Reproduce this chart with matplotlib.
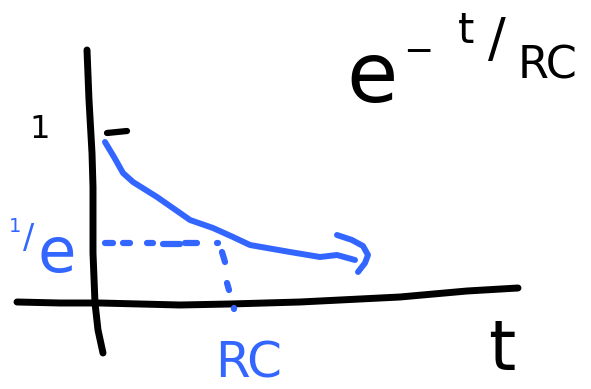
import matplotlib
matplotlib.use("Agg")
import matplotlib.pyplot as plt

# Hand-sketched RC decay: canvas units are pixels, y grows downward.
BLUE = "#3366ff"
BLACK = "#000000"

# Axes strokes
vaxis_x = [87, 89, 92, 93, 93, 95, 98, 103]
vaxis_y = [50, 100, 153, 187, 253, 303, 330, 353]
haxis_x = [17, 60, 100, 180, 230, 300, 400, 467, 518]
haxis_y = [302, 303, 303, 305, 304, 302, 297, 291, 288]

# Tick mark at value 1
tick_x = [107, 127]
tick_y = [133, 131]

# Decay curve and its arrow head
curve_x = [105, 114, 123, 133, 157, 180, 190, 213, 233, 250, 267, 290, 320, 337, 355]
curve_y = [142, 157, 173, 182, 197, 213, 220, 228, 237, 245, 248, 252, 257, 255, 260]
head_x = [337, 352, 363, 368, 365, 358]
head_y = [235, 240, 246, 255, 263, 272]

# Dashed guide from 1/e over to t = RC and down to the t axis
guide_dashes = [
    ((105, 243), (113, 243)),
    ((123, 243), (130, 243)),
    ((147, 243), (153, 243)),
    ((163, 244), (180, 244)),
    ((185, 243), (197, 243)),
    ((217, 243), (218, 243)),
    ((222, 252), (225, 262)),
    ((227, 283), (229, 290)),
    ((234, 308), (234, 309)),
]

fig = plt.figure(figsize=(5.91, 3.89), dpi=100)
ax = fig.add_axes([0, 0, 1, 1])
ax.set_xlim(0, 591)
ax.set_ylim(389, 0)
ax.axis("off")

stroke = dict(solid_capstyle="round", solid_joinstyle="round")
ax.plot(vaxis_x, vaxis_y, color=BLACK, lw=5.0, **stroke)
ax.plot(haxis_x, haxis_y, color=BLACK, lw=5.0, **stroke)
ax.plot(tick_x, tick_y, color=BLACK, lw=4.5, **stroke)
ax.plot(curve_x, curve_y, color=BLUE, lw=4.3, **stroke)
ax.plot(head_x, head_y, color=BLUE, lw=4.3, **stroke)
for (x0, y0), (x1, y1) in guide_dashes:
    ax.plot([x0, x1], [y0, y1], color=BLUE, lw=4.5, **stroke)

font = "DejaVu Sans"
# Value labels
ax.text(40, 138, "1", color=BLACK, fontsize=23, ha="center", va="baseline", family=font)
ax.text(15, 232, "1", color=BLUE, fontsize=14, ha="center", va="baseline", family=font)
ax.text(29, 248, "/", color=BLUE, fontsize=24, ha="center", va="baseline", family=font)
ax.text(57, 272, "e", color=BLUE, fontsize=45, ha="center", va="baseline", family=font)
ax.text(249, 377, "RC", color=BLUE, fontsize=36, ha="center", va="baseline", family=font)
ax.text(502, 370, "t", color=BLACK, fontsize=50, ha="center", va="baseline", family=font)

# Formula e^(-t/RC)
ax.text(372, 102, "e", color=BLACK, fontsize=60, ha="center", va="baseline", family=font)
ax.text(418, 62, "−", color=BLACK, fontsize=26, ha="center", va="baseline", family=font)
ax.text(466, 43, "t", color=BLACK, fontsize=30, ha="center", va="baseline", family=font)
ax.text(497, 56, "/", color=BLACK, fontsize=38, ha="center", va="baseline", family=font)
ax.text(548, 78, "RC", color=BLACK, fontsize=32, ha="center", va="baseline", family=font)

fig.savefig("out.png", dpi=100, facecolor="white")
